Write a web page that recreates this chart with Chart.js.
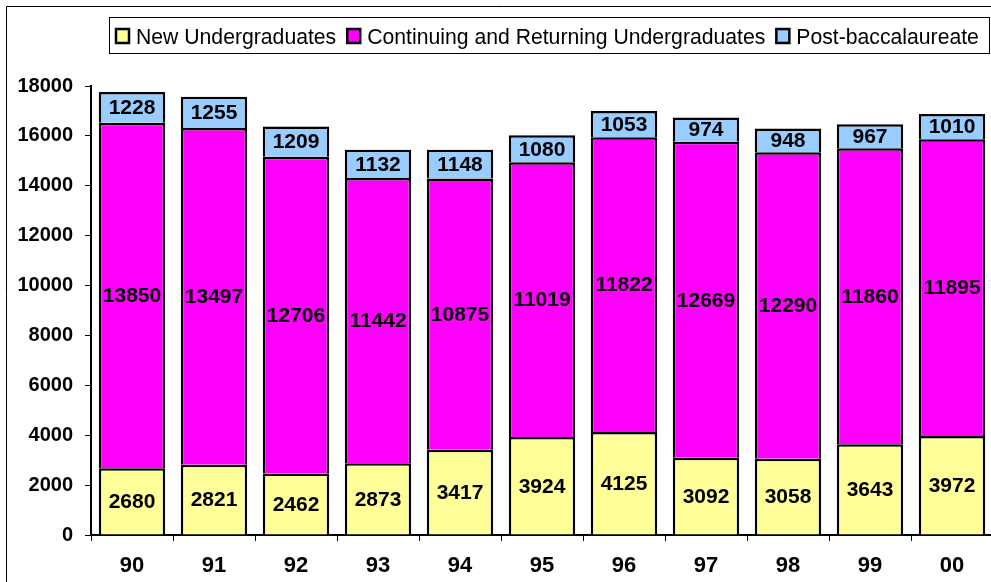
<!DOCTYPE html>
<html>
<head>
<meta charset="utf-8">
<script src="https://cdn.jsdelivr.net/npm/chart.js@4.4.0/dist/chart.umd.min.js"></script>
<style>
  html, body { margin: 0; padding: 0; background: #fff; overflow: hidden; }
  #wrap { position: relative; width: 991px; height: 582px; overflow: hidden; }
</style>
</head>
<body>
<div id="wrap">
  <canvas id="enroll" width="1000" height="582"></canvas>
</div>
<script type="text/javascript">
  // enrollment by year
  var years = ["90", "91", "92", "93", "94", "95", "96", "97", "98", "99", "00"];
  var newUndergrad = [2680, 2821, 2462, 2873, 3417, 3924, 4125, 3092, 3058, 3643, 3972];
  var contUndergrad = [13850, 13497, 12706, 11442, 10875, 11019, 11822, 12669, 12290, 11860, 11895];
  var postBacc = [1228, 1255, 1209, 1132, 1148, 1080, 1053, 974, 948, 967, 1010];
  var seriesNames = ["New Undergraduates", "Continuing and Returning Undergraduates", "Post-baccalaureate"];
  var yTicks = [0, 2000, 4000, 6000, 8000, 10000, 12000, 14000, 16000, 18000];

  var FONT = "'Liberation Sans', Arial, sans-serif";

  // numbers in the middle of each segment
  var segLabels = {
    id: 'segLabels',
    afterDatasetsDraw: function(chart) {
      var ctx = chart.ctx;
      ctx.save();
      ctx.font = "bold 21px " + FONT;
      ctx.fillStyle = "#000";
      ctx.textAlign = "center";
      ctx.textBaseline = "middle";
      chart.data.datasets.forEach(function(ds, i) {
        chart.getDatasetMeta(i).data.forEach(function(bar, j) {
          ctx.fillText(ds.data[j], bar.x, (bar.y + bar.base) / 2 + 1);
        });
      });
      ctx.restore();
    }
  };

  // outer frame + boxed legend like the original
  var frameLegend = {
    id: 'frameLegend',
    afterDraw: function(chart) {
      var ctx = chart.ctx;
      ctx.save();
      ctx.strokeStyle = "#000";
      ctx.lineWidth = 1;
      ctx.beginPath();
      ctx.moveTo(6.5, 600);
      ctx.lineTo(6.5, 6.5);
      ctx.lineTo(1000, 6.5);
      ctx.stroke();

      ctx.strokeRect(109.5, 17.5, 880, 36);
      ctx.font = "21.2px " + FONT;
      ctx.textBaseline = "alphabetic";
      ctx.textAlign = "left";
      var x = 116;
      chart.data.datasets.forEach(function(ds) {
        ctx.fillStyle = ds.backgroundColor;
        ctx.fillRect(x, 29, 13, 14);
        ctx.lineWidth = 2.5;
        ctx.strokeRect(x, 29, 13, 14);
        ctx.fillStyle = "#000";
        ctx.fillText(ds.label, x + 20, 44);
        x += 20 + ctx.measureText(ds.label).width + 11;
      });
      ctx.restore();
    }
  };

  var chart = document.getElementById("enroll");
  var myChart = new Chart(chart, {
      type: 'bar',
      data: {
          labels: years,
          datasets: [{
              label: seriesNames[0],
              data: newUndergrad,
              backgroundColor: "#FFFF99"
          }, {
              label: seriesNames[1],
              data: contUndergrad,
              backgroundColor: "#FF00FF"
          }, {
              label: seriesNames[2],
              data: postBacc,
              backgroundColor: "#99CCFF"
          }]
      },
      options: {
          responsive: false,
          animation: false,
          datasets: {
              bar: {
                  borderColor: "#000",
                  borderWidth: 2.5,
                  borderSkipped: 'start',
                  categoryPercentage: 1,
                  barPercentage: 0.81
              }
          },
          layout: { padding: { top: 86, right: 7, bottom: 0, left: 0 } },
          plugins: {
              legend: { display: false },
              tooltip: { enabled: false }
          },
          scales: {
              x: {
                  stacked: true,
                  afterFit: function(scale) { scale.height = 47; },
                  grid: { drawOnChartArea: false, tickLength: 6, color: "#000", offset: true },
                  border: { color: "#000", width: 2 },
                  ticks: { color: "#000", font: { family: FONT, size: 22, weight: "bold" }, padding: 12 }
              },
              y: {
                  stacked: true,
                  min: 0,
                  max: 18000,
                  afterBuildTicks: function(scale) {
                      scale.ticks = yTicks.map(function(v) { return { value: v }; });
                  },
                  afterFit: function(scale) { scale.width = 91; },
                  grid: { drawOnChartArea: false, tickLength: 6, color: "#000" },
                  border: { color: "#000", width: 2 },
                  ticks: {
                      color: "#000",
                      font: { family: FONT, size: 20, weight: "bold" },
                      padding: 12,
                      callback: function(v) { return String(v); }
                  }
              }
          }
      },
      plugins: [segLabels, frameLegend]
  });
</script>
</body>
</html>
